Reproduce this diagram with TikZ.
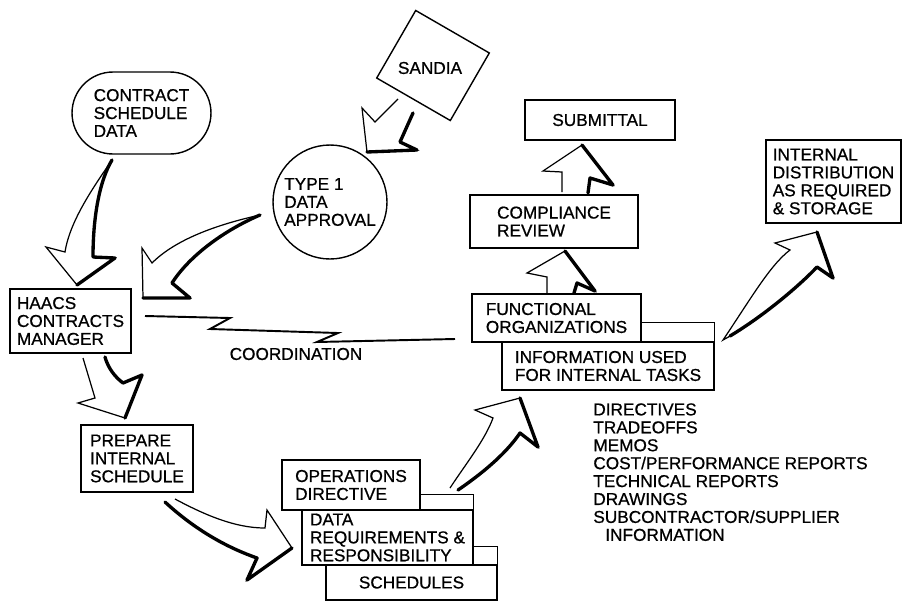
\documentclass[tikz,border=0pt]{standalone}
\usepackage{fontspec}
\setmainfont{Liberation Sans}[FakeBold=0.7]
\usetikzlibrary{shapes.misc}

\begin{document}
\begin{tikzpicture}[x=0.02cm, y=-0.02cm,
    every node/.style={font=\fontsize{9.8}{10.2}\selectfont, align=left, inner sep=0pt},
    box/.style={draw, line width=0.8pt},
    arrline/.style={line width=0.7pt},
    arrshade/.style={line width=1.9pt, line join=round, line cap=round},
    coordline/.style={line width=1.1pt, line join=miter}]
  \useasboundingbox (0,0) rectangle (902,602);

  % sources
  \node[box, rounded rectangle, minimum width=2.78cm, minimum height=1.64cm] (contract) at (141.5,113) {CONTRACT\\SCHEDULE\\DATA};
  \node[box, rotate=-30, minimum width=1.7cm, minimum height=1.56cm] (sandia) at (433,65.5) {};
  \node (sandialabel) at (430,68) {SANDIA};
  \node[box, circle, minimum size=2.28cm] (approval) at (330,202) {TYPE 1\\DATA\\APPROVAL};

  % left column
  \node[box, minimum width=2.42cm, minimum height=1.28cm] (haacs) at (70.5,321) {HAACS\\CONTRACTS\\MANAGER};
  \node[box, minimum width=2.24cm, minimum height=1.34cm] (prep) at (137,458.5) {PREPARE\\INTERNAL\\SCHEDULE};

  % stacked cards at the bottom
  \node[box, minimum width=2.76cm, minimum height=1.0cm] (ops) at (351,485) {OPERATIONS\\DIRECTIVE};
  \node[box, minimum width=3.42cm, minimum height=1.1cm] (dreq) at (387.5,537.5) {DATA\\REQUIREMENTS \&\\RESPONSIBILITY};
  \draw[box] (dreq.north east) -- ++(0,-15) coordinate (dqtop) -- (dqtop -| ops.east);
  \node[box, minimum width=3.42cm, minimum height=0.7cm] (sched) at (411.5,582.5) {SCHEDULES};
  \draw[box] (sched.north east) -- ++(0,-18) coordinate (sctop) -- (sctop -| dreq.east);

  % right part
  \node[box, minimum width=3.38cm, minimum height=0.96cm] (func) at (556.5,318) {FUNCTIONAL\\ORGANIZATIONS};
  \node[box, minimum width=4.24cm, minimum height=0.96cm] (info) at (608,366) {INFORMATION USED\\FOR INTERNAL TASKS};
  \draw[box] (info.north east) -- ++(0,-19) coordinate (iftop) -- (iftop -| func.east);
  \node[box, minimum width=3.36cm, minimum height=1.06cm] (comp) at (554,221.5) {COMPLIANCE\\REVIEW};
  \node[box, minimum width=3.0cm, minimum height=0.8cm] (subm) at (600,120) {SUBMITTAL};
  \node[box, minimum width=2.7cm, minimum height=1.66cm] (dist) at (833.5,181.5) {INTERNAL\\DISTRIBUTION\\AS REQUIRED\\\& STORAGE};

  \node[anchor=north west] (itemlist) at (593,403) {DIRECTIVES\\TRADEOFFS\\MEMOS\\COST/PERFORMANCE REPORTS\\TECHNICAL REPORTS\\DRAWINGS\\SUBCONTRACTOR/SUPPLIER\\\hspace*{0.24cm}INFORMATION};

  % coordination
  \coordinate (zA) at (145,316);
  \coordinate (zB) at (455,339);
  \draw[coordline] (zA) -- (230,318) -- (210,329) -- (338,333) -- (317,342) -- (zB);
  \node (coordlabel) at (296,354) {COORDINATION};

  % block arrows
  \draw[arrline] (112,160) .. controls (95,185) and (70,220) .. (65,252) -- (46,247) -- (77,285) -- (115,258) -- (93,257) .. controls (93,215) and (100,180) .. cycle;
  \draw[arrshade] (112,160) .. controls (100,180) and (93,215) .. (93,257) -- (115,258) -- (77,285);

  \draw[arrline] (260,215) .. controls (215,225) and (175,240) .. (152,263) -- (142,248) -- (143,298) -- (190,298) -- (172,283) .. controls (190,255) and (225,230) .. cycle;
  \draw[arrshade] (260,215) .. controls (225,230) and (190,255) .. (172,283) -- (190,298) -- (143,298);

  \draw[arrline] (398,99) -- (375,122) -- (362,108) -- (367,152) -- (417,150) -- (400,142) -- (413,113);
  \draw[arrshade] (413,113) -- (400,142) -- (417,150) -- (367,152);

  \draw[arrline] (83,358) -- (95,398) -- (78,403) -- (125,418) -- (142,375) -- (123,383) .. controls (115,377) and (108,368) .. (105,357);
  \draw[arrshade] (105,357) .. controls (108,368) and (115,377) .. (123,383) -- (142,375) -- (125,418);

  \draw[arrline] (175,499) .. controls (205,515) and (235,528) .. (265,528) -- (267,510) -- (292,548) -- (247,580) -- (257,558) .. controls (220,545) and (190,525) .. (165,502);
  \draw[arrshade] (165,502) .. controls (190,525) and (220,545) .. (257,558) -- (247,580) -- (292,548);

  \draw[arrline] (450,488) .. controls (465,465) and (485,440) .. (493,418) -- (475,410) -- (520,398) -- (538,447) -- (520,433) .. controls (505,455) and (480,475) .. (458,490);
  \draw[arrshade] (458,490) .. controls (480,475) and (505,455) .. (520,433) -- (538,447) -- (520,398);

  \draw[arrline] (547,293) -- (547,277) -- (527,273) -- (565,251) -- (595,291) -- (577,283) -- (574,293);
  \draw[arrshade] (574,293) -- (577,283) -- (595,291) -- (565,251);

  \draw[arrline] (562,192) -- (562,172) -- (543,171) -- (582,145) -- (613,185) -- (590,178) -- (588,193);
  \draw[arrshade] (588,193) -- (590,178) -- (613,185) -- (582,145);

  \draw[arrline] (723,340) .. controls (750,300) and (770,265) .. (790,250) -- (775,243) -- (817,232) -- (833,278) -- (817,267) .. controls (800,285) and (760,320) .. cycle;
  \draw[arrshade] (730,336) .. controls (765,315) and (800,285) .. (817,267) -- (833,278) -- (817,232);
\end{tikzpicture}
\end{document}
